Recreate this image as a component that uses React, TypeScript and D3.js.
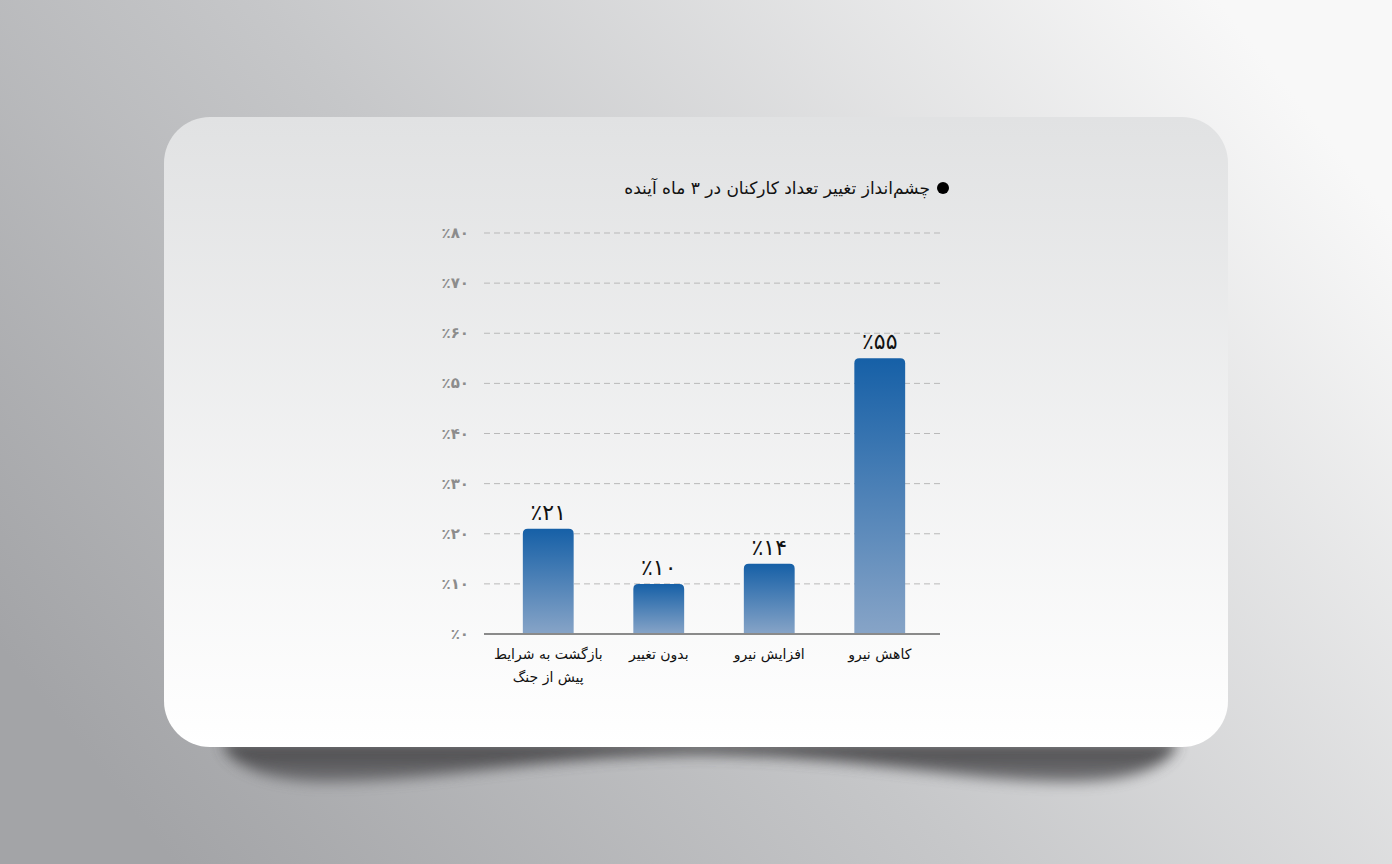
import * as d3 from "d3";

const categories = ["بازگشت به شرایط|پیش از جنگ", "بدون تغییر", "افزایش نیرو", "کاهش نیرو"];
const values = [21, 10, 14, 55];
const valueLabels = ["٪۲۱", "٪۱۰", "٪۱۴", "٪۵۵"];
const yTicks = [0, 10, 20, 30, 40, 50, 60, 70, 80];
const yTickLabels = ["٪۰", "٪۱۰", "٪۲۰", "٪۳۰", "٪۴۰", "٪۵۰", "٪۶۰", "٪۷۰", "٪۸۰"];
const title = "چشم‌انداز تغییر تعداد کارکنان در ۳ ماه آینده";

const W = 1392;
const H = 864;
const FONT = "'DejaVu Sans', sans-serif";

export default function App() {
  const x = d3.scaleBand<string>().domain(categories).range([493, 935]).paddingInner(0.54).paddingOuter(0.27);
  const y = d3.scaleLinear().domain([0, 80]).range([634, 233]);
  const r = 5;

  const barPath = (x0: number, w: number, y0: number, y1: number) =>
    `M${x0},${y1} L${x0},${y0 + r} Q${x0},${y0} ${x0 + r},${y0} L${x0 + w - r},${y0} Q${x0 + w},${y0} ${x0 + w},${y0 + r} L${x0 + w},${y1} Z`;

  return (
    <div style={{ position: "fixed", left: 0, top: 0, width: W, height: H }}>
      <svg width={W} height={H} style={{ display: "block" }}>
        <defs>
          <linearGradient id="bg" x1="0" y1="0.75" x2="1" y2="0.25">
            <stop offset="0" stopColor="#a3a4a7" />
            <stop offset="0.45" stopColor="#c6c7c9" />
            <stop offset="1" stopColor="#f8f8f8" />
          </linearGradient>
          <linearGradient id="card" x1="0" y1="0" x2="0" y2="1">
            <stop offset="0" stopColor="#e1e2e3" />
            <stop offset="1" stopColor="#ffffff" />
          </linearGradient>
          <linearGradient id="bar" x1="0" y1="0" x2="0" y2="1">
            <stop offset="0" stopColor="#1660a7" />
            <stop offset="1" stopColor="#87a4c7" />
          </linearGradient>
          <linearGradient id="shade" x1="0" y1="0" x2="0" y2="1">
            <stop offset="0" stopColor="#3c3b3d" />
            <stop offset="1" stopColor="#6a6a6d" />
          </linearGradient>
          <filter id="blur" x="-20%" y="-100%" width="140%" height="300%">
            <feGaussianBlur stdDeviation="7" />
          </filter>
        </defs>
        <rect width={W} height={H} fill="url(#bg)" />
        {/* shadow under card */}
        <g filter="url(#blur)" opacity={0.9}>
          <path d="M222,742 L1178,742 C1172,766 1130,782 1070,782 C960,782 860,756 700,754 C540,756 440,782 330,782 C270,782 228,766 222,742 Z" fill="url(#shade)" />
        </g>
        <rect x={164} y={117} width={1064} height={630} rx={46} fill="url(#card)" />

        {/* title */}
        <circle cx={943} cy={188} r={6} fill="#000" />
        <text x={930} y={194} textAnchor="end" fontFamily={FONT} fontSize={17} fill="#111">{title}</text>

        {/* grid */}
        {yTicks.slice(1).map(t => (
          <line key={t} x1={484} x2={940} y1={y(t)} y2={y(t)} stroke="#b9b9b9" strokeWidth={1} strokeDasharray="6,4" />
        ))}
        {yTicks.map((t, i) => (
          <text key={t} x={469} y={y(t) + 5} textAnchor="end" fontFamily={FONT} fontSize={15} fontWeight="bold" fill="#8c8c8c">{yTickLabels[i]}</text>
        ))}

        {/* bars */}
        {categories.map((c, i) => {
          const bx = x(c)!;
          const bw = x.bandwidth();
          return (
            <g key={c}>
              <path d={barPath(bx, bw, y(values[i]), y(0))} fill="url(#bar)" />
              <text x={bx + bw / 2} y={y(values[i]) - 9} textAnchor="middle" fontFamily={FONT} fontSize={22} fill="#111">{valueLabels[i]}</text>
              {c.split("|").map((ln, j) => (
                <text key={j} x={bx + bw / 2} y={659 + j * 23} textAnchor="middle" fontFamily={FONT} fontSize={14} fill="#111">{ln}</text>
              ))}
            </g>
          );
        })}
        <line x1={484} x2={940} y1={y(0)} y2={y(0)} stroke="#8a8a8a" strokeWidth={2} />
      </svg>
    </div>
  );
}
